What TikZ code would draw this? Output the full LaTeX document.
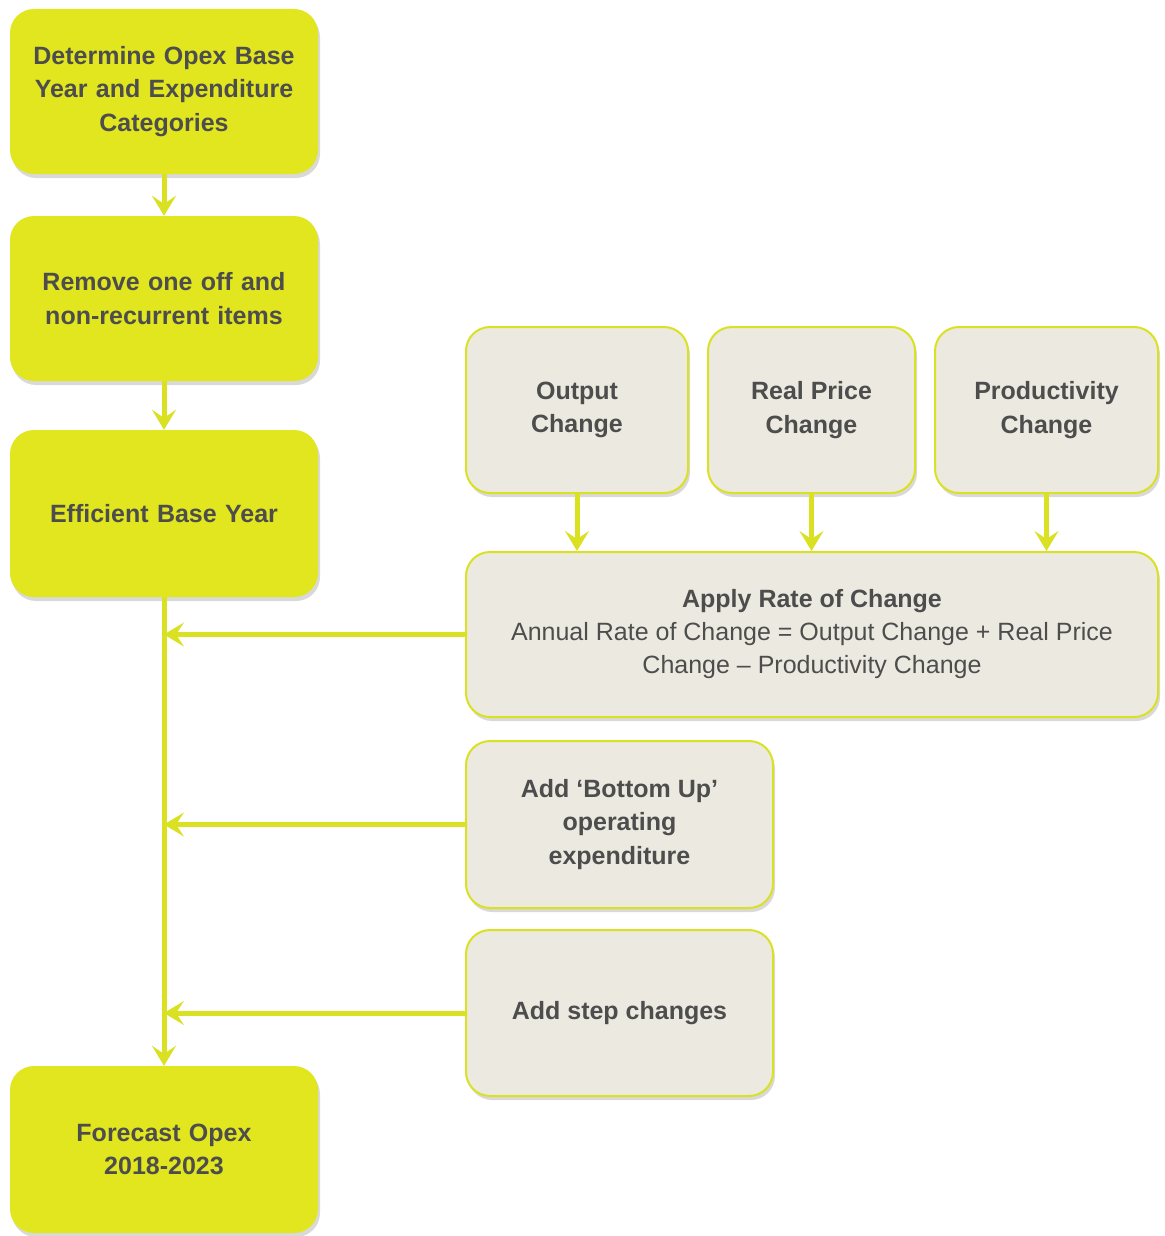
\documentclass[tikz,border=0pt]{standalone}
\usepackage{fontspec}
\setmainfont{Liberation Sans}
\usetikzlibrary{arrows.meta,shadows}
\definecolor{lime}{RGB}{225,230,30}
\definecolor{limeline}{RGB}{218,224,34}
\definecolor{greyfill}{RGB}{236,234,224}
\definecolor{txt}{RGB}{77,77,77}
\tikzset{
  limebox/.style={rectangle, rounded corners=24pt, fill=lime, draw=none, text=txt,
    font=\bfseries\fontsize{25}{33.5}\selectfont, align=center, text width=300pt,
    minimum width=308pt, drop shadow={opacity=0.3, shadow xshift=2pt, shadow yshift=-4pt}},
  greybox/.style={rectangle, rounded corners=24pt, fill=greyfill, draw=limeline, line width=2pt, text=txt,
    font=\bfseries\fontsize{25}{33.5}\selectfont, align=center,
    drop shadow={opacity=0.3, shadow xshift=2pt, shadow yshift=-4pt}},
  conn/.style={draw=limeline, line width=5pt, -{Stealth[length=20pt,width=24pt,inset=8pt]}},
}
\begin{document}
\begin{tikzpicture}[x=1pt,y=-1pt]
\useasboundingbox (0,0) rectangle (1164,1236);
\node[limebox, minimum height=165pt] (b1) at (164,91.5) {Determine Opex Base\\Year and Expenditure\\Categories};
\node[limebox, minimum height=165pt] (b2) at (164,298.5) {Remove one off and\\non-recurrent items};
\node[limebox, minimum height=167pt] (b3) at (164,513.5) {Efficient Base Year};
\node[limebox, minimum height=167pt] (b5) at (164,1149.5) {Forecast Opex\\2018-2023};

\node[greybox, minimum width=222pt, minimum height=166pt] (oc) at (577,410) {Output\\Change};
\node[greybox, minimum width=207pt, minimum height=166pt] (rp) at (811.5,410) {Real Price\\Change};
\node[greybox, minimum width=223pt, minimum height=166pt] (pc) at (1046.5,410) {Productivity\\Change};
\node[greybox, minimum width=692pt, minimum height=165pt] (ap) at (812,634.5) {Apply Rate of Change\\[-1pt]
  {\mdseries Annual Rate of Change = Output Change + Real Price}\\
  {\mdseries Change -- Productivity Change}};
\node[greybox, minimum width=307pt, minimum height=167pt] (bu) at (619.5,824.5) {Add ‘Bottom Up’\\operating\\expenditure};
\node[greybox, minimum width=307pt, minimum height=166pt] (sc) at (619.5,1013) {Add step changes};

\draw[conn] (b1) -- (b2);
\draw[conn] (b2) -- (b3);
\draw[conn] (b3) -- (b5);
\draw[conn] (oc) -- (oc.south |- ap.north);
\draw[conn] (rp) -- (rp.south |- ap.north);
\draw[conn] (pc) -- (pc.south |- ap.north);
\draw[conn] (ap.west) -- (b3.south |- ap.west);
\draw[conn] (bu.west) -- (b3.south |- bu.west);
\draw[conn] (sc.west) -- (b3.south |- sc.west);
\end{tikzpicture}
\end{document}
